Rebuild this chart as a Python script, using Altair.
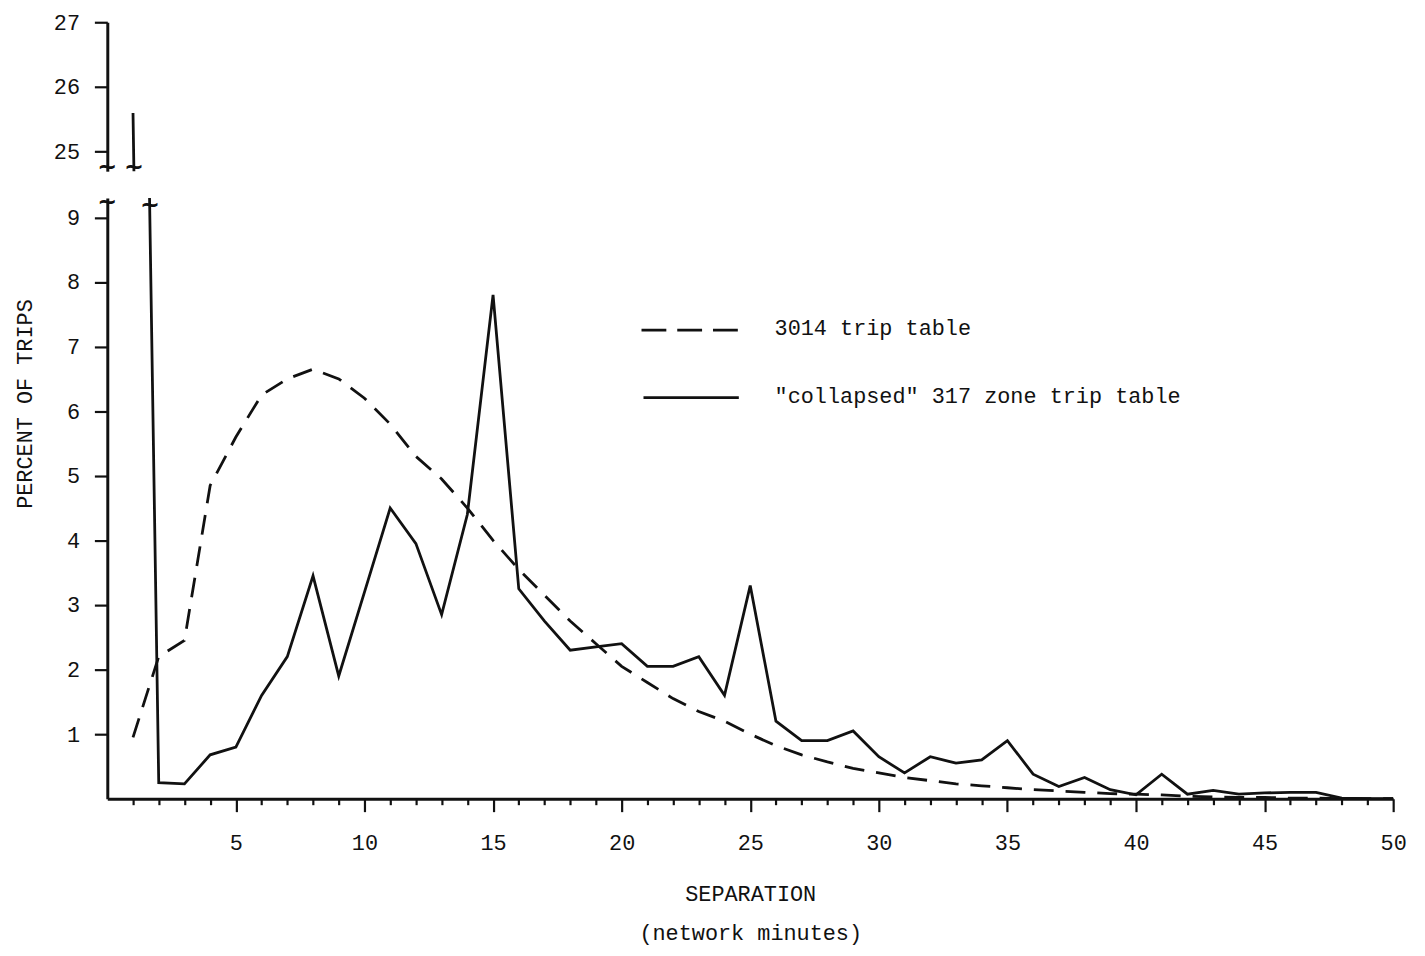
import altair as alt
import pandas as pd

# ---- data ----
minutes = list(range(1, 51))
collapsed_317 = [25.6, 0.25, 0.23, 0.68, 0.8, 1.6, 2.2, 3.45, 1.9, 3.2,
                 4.5, 3.95, 2.85, 4.4, 7.8, 3.25, 2.75, 2.3, 2.35, 2.4,
                 2.05, 2.05, 2.2, 1.6, 3.3, 1.2, 0.9, 0.9, 1.05, 0.65,
                 0.4, 0.65, 0.55, 0.6, 0.9, 0.38, 0.19, 0.33, 0.14, 0.06,
                 0.38, 0.07, 0.13, 0.07, 0.09, 0.1, 0.1, 0.01, 0.0, 0.0]
table_3014 = [0.95, 2.2, 2.45, 4.85, 5.6, 6.25, 6.5, 6.65, 6.5, 6.2,
              5.8, 5.3, 4.95, 4.5, 4.0, 3.55, 3.15, 2.75, 2.4, 2.05,
              1.8, 1.55, 1.35, 1.2, 1.0, 0.82, 0.68, 0.57, 0.47, 0.4,
              0.33, 0.28, 0.23, 0.2, 0.17, 0.14, 0.12, 0.1, 0.08, 0.07,
              0.06, 0.04, 0.03, 0.02, 0.02, 0.01, 0.01, 0.0, 0.0, 0.0]
lower_ticks = [1, 2, 3, 4, 5, 6, 7, 8, 9]
upper_ticks = [25, 26, 27]
legend_labels = ["3014 trip table", "\"collapsed\" 317 zone trip table"]

solid_df = pd.DataFrame({"minutes": minutes, "pct": collapsed_317})
dash_df = pd.DataFrame({"minutes": minutes, "pct": table_3014})
one = pd.DataFrame({"k": [0]})

INK = "#111111"
FONT = "Liberation Mono"
W = 1295
H_LOW = 605
H_UP = 150
LW = 2.8

x_scale = alt.Scale(domain=[0, 50], nice=False, zero=False)
x_axis = alt.Axis(
    values=minutes,
    labelExpr="datum.value % 5 == 0 ? datum.label : ''",
    tickSize={"condition": {"test": "datum.value % 5 == 0", "value": 13}, "value": 6},
    labelPadding=21,
    title=["SEPARATION", "(network minutes)"],
    titleLineHeight=40,
    titlePadding=30,
    titleFontSize=22,
    titleFontWeight="normal",
    titleFont=FONT,
    labelFont=FONT,
    labelFontSize=22,
    domainWidth=3,
    tickWidth=2.2,
    domainColor=INK,
    tickColor=INK,
    labelColor=INK,
    titleColor=INK,
    grid=False,
    labelFlush=False,
)

# ----- lower panel -----
y_low = alt.Y(
    "pct:Q",
    scale=alt.Scale(domain=[0, 9.3], nice=False, zero=False),
    axis=alt.Axis(
        values=lower_ticks,
        tickSize=13,
        labelPadding=15,
        title="PERCENT OF TRIPS",
        titleY=207,
        titlePadding=30,
        titleFontSize=22,
        titleFontWeight="normal",
        titleFont=FONT,
        labelFont=FONT,
        labelFontSize=22,
        domainWidth=3,
        tickWidth=2.2,
        domainColor=INK,
        tickColor=INK,
        labelColor=INK,
        titleColor=INK,
        grid=False,
    ),
)

low_dash = alt.Chart(dash_df).mark_line(
    color=INK, strokeWidth=LW, strokeDash=[20, 12], clip=True
).encode(x=alt.X("minutes:Q", scale=x_scale, axis=x_axis), y=y_low)

low_solid = alt.Chart(solid_df).mark_line(
    color=INK, strokeWidth=LW, clip=True
).encode(x=alt.X("minutes:Q", scale=x_scale, axis=x_axis), y=y_low)

leg_rule_dash = alt.Chart(one).mark_rule(
    color=INK, strokeWidth=LW, strokeDash=[25, 11]
).encode(x=alt.value(538), x2=alt.value(636), y=alt.value(133))
leg_rule_solid = alt.Chart(one).mark_rule(
    color=INK, strokeWidth=LW
).encode(x=alt.value(540), x2=alt.value(636), y=alt.value(201))
leg_text1 = alt.Chart(one).mark_text(
    align="left", baseline="middle", font=FONT, fontSize=22, color=INK
).encode(x=alt.value(672), y=alt.value(131), text=alt.value(legend_labels[0]))
leg_text2 = alt.Chart(one).mark_text(
    align="left", baseline="middle", font=FONT, fontSize=22, color=INK
).encode(x=alt.value(672), y=alt.value(199), text=alt.value(legend_labels[1]))

BRK = dict(font="DejaVu Sans", fontSize=24, fontWeight="bold", color=INK, baseline="middle")
brk_low_axis = alt.Chart(one).mark_text(**BRK).encode(
    x=alt.value(0), y=alt.value(4), text=alt.value("~"))
brk_low_line = alt.Chart(one).mark_text(**BRK).encode(
    x=alt.value(43), y=alt.value(7), text=alt.value("~"))

lower = alt.layer(
    low_dash, low_solid, leg_rule_dash, leg_rule_solid, leg_text1, leg_text2,
    brk_low_axis, brk_low_line
).properties(width=W, height=H_LOW)

# ----- upper panel -----
y_up = alt.Y(
    "pct:Q",
    scale=alt.Scale(domain=[24.7, 27], nice=False, zero=False),
    axis=alt.Axis(
        values=upper_ticks,
        tickSize=13,
        labelPadding=15,
        title=None,
        labelFont=FONT,
        labelFontSize=22,
        domainWidth=3,
        tickWidth=2.2,
        domainColor=INK,
        tickColor=INK,
        labelColor=INK,
        grid=False,
    ),
)

up_solid = alt.Chart(solid_df).mark_line(
    color=INK, strokeWidth=LW, clip=True
).encode(x=alt.X("minutes:Q", scale=x_scale, axis=None), y=y_up)

brk_up_axis = alt.Chart(one).mark_text(**BRK).encode(
    x=alt.value(0), y=alt.value(H_UP - 4), text=alt.value("~"))
brk_up_line = alt.Chart(one).mark_text(**BRK).encode(
    x=alt.value(27), y=alt.value(H_UP - 4), text=alt.value("~"))

upper = alt.layer(up_solid, brk_up_axis, brk_up_line).properties(width=W, height=H_UP)

chart = alt.vconcat(upper, lower, spacing=27, bounds="flush").resolve_scale(
    y="independent"
).properties(
    padding={"top": 0, "left": 5, "right": 10, "bottom": 5},
    background="white",
).configure_view(strokeWidth=0)

chart.save("out.html", embed_options={"renderer": "svg", "actions": False})
